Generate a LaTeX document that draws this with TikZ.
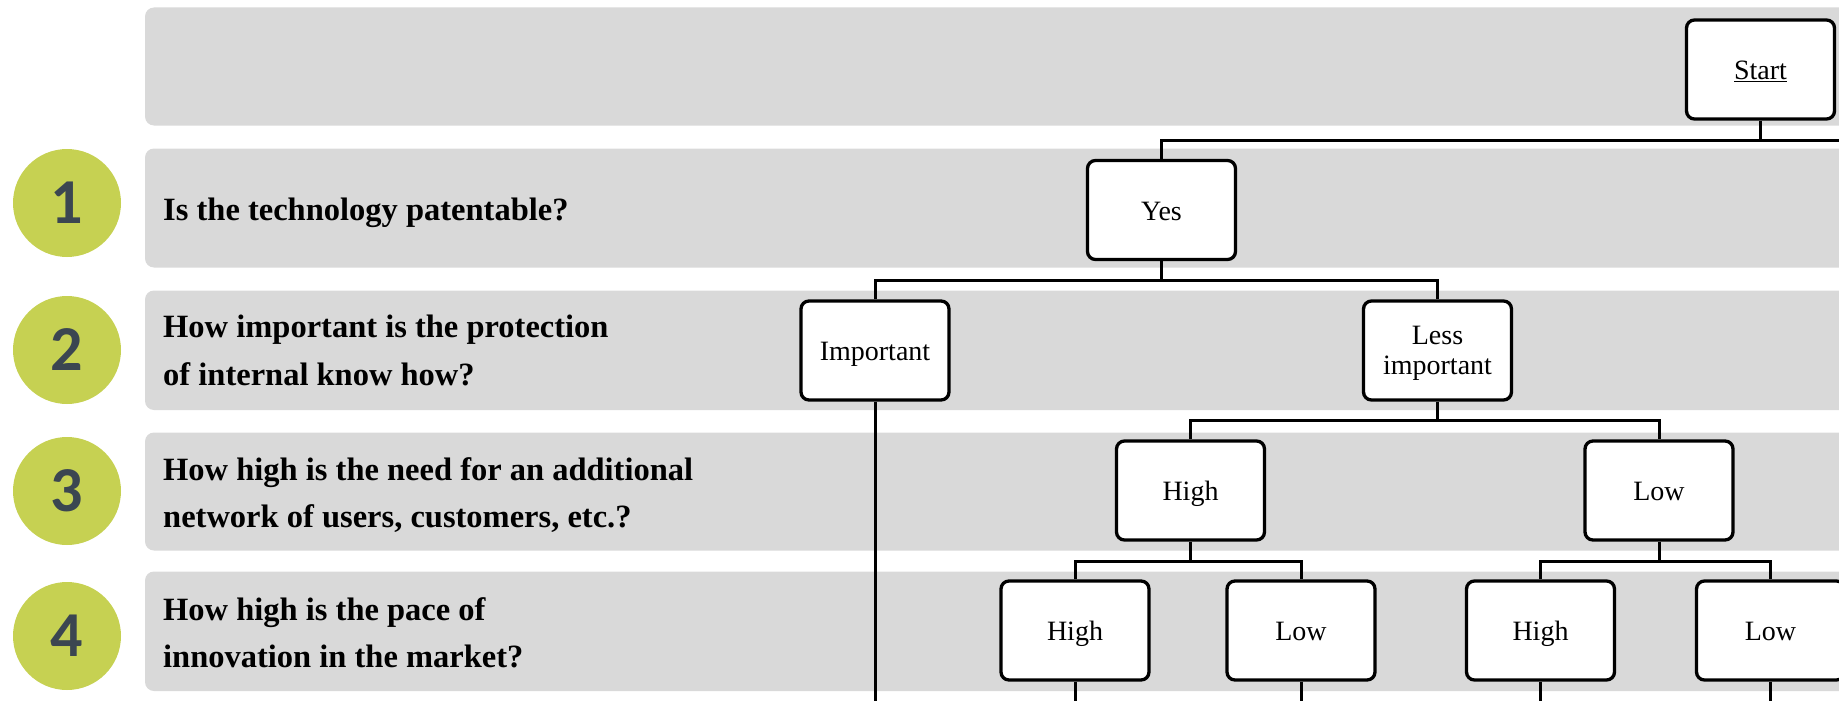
\documentclass[tikz,border=0pt]{standalone}
\usepackage{fontspec}
\setmainfont{Liberation Serif}
\newfontfamily\numfont{Carlito}
\definecolor{bandgray}{RGB}{217,217,217}
\definecolor{circgreen}{RGB}{198,209,82}
\definecolor{numgray}{RGB}{59,70,81}
\begin{document}
\begin{tikzpicture}[x=1pt,y=-1pt,
  band/.style={fill=bandgray, draw=none, rounded corners=9pt},
  numcirc/.style={circle, fill=circgreen, minimum size=108pt, inner sep=0pt, text=numgray, font=\numfont\bfseries\fontsize{64}{64}\selectfont},
  qtext/.style={anchor=base west, inner sep=0pt, font=\bfseries\fontsize{32.5}{39}\selectfont},
  boxbase/.style={draw=black, line width=3.3pt, fill=white, rounded corners=8pt, minimum width=148pt, minimum height=99pt, inner sep=0pt, font=\fontsize{28}{30}\selectfont, align=center},
  dbox/.style={boxbase, text height=20pt, text depth=0pt},
  dboxtwo/.style={boxbase},
  conn/.style={line width=3pt, draw=black}
]
\useasboundingbox (0,0) rectangle (1839,701);
\clip (0,0) rectangle (1839,701);

% bands
\fill[band] (145,7.5) rectangle (1870,125.5);
\fill[band] (145,148.5) rectangle (1870,267.5);
\fill[band] (145,290.5) rectangle (1870,410);
\fill[band] (145,432.5) rectangle (1870,550.5);
\fill[band] (145,571.5) rectangle (1870,691);

% numbered circles
\node[numcirc] (c1) at (67,203) {1};
\node[numcirc] (c2) at (67,350) {2};
\node[numcirc] (c3) at (67,491) {3};
\node[numcirc] (c4) at (67,636) {4};

% questions
\node[qtext] (q1) at (163,220) {Is the technology patentable?};
\node[qtext] (q2a) at (163,337) {How important is the protection};
\node[qtext] (q2b) at (163,385) {of internal know how?};
\node[qtext] (q3a) at (163,480) {How high is the need for an additional};
\node[qtext] (q3b) at (163,527) {network of users, customers, etc.?};
\node[qtext] (q4a) at (163,620) {How high is the pace of};
\node[qtext] (q4b) at (163,667) {innovation in the market?};

% decision boxes
\node[dbox] (start) at (1760.5,69.5) {\underline{Start}};
\node[dbox] (yes) at (1161.5,210) {Yes};
\node[dbox] (imp) at (875,350.5) {Important};
\node[dboxtwo] (less) at (1437.5,350.5) {\rule{0pt}{24pt}Less\\important};
\node[dbox] (h3) at (1190.5,490.5) {High};
\node[dbox] (l3) at (1659,490.5) {Low};
\node[dbox] (h4a) at (1075,630.5) {High};
\node[dbox] (l4b) at (1301,630.5) {Low};
\node[dbox] (h4c) at (1540.5,630.5) {High};
\node[dbox] (l4d) at (1770.5,630.5) {Low};

% junction coordinates
\coordinate (j0) at (1760.5,140);
\coordinate (r0) at (1870,140);
\coordinate (j1) at (1161.5,280);
\coordinate (j2) at (1437.5,420);
\coordinate (j3) at (1190.5,561);
\coordinate (j4) at (1659,561);
\coordinate (b1) at (875,720);
\coordinate (b2) at (1075,720);
\coordinate (b3) at (1301,720);
\coordinate (b4) at (1540.5,720);
\coordinate (b5) at (1770.5,720);

% connectors
\draw[conn] (start.south) -- (j0);
\draw[conn] (yes.north) |- (r0);
\draw[conn] (yes.south) -- (j1);
\draw[conn] (imp.north) |- (j1) -| (less.north);
\draw[conn] (imp.south) -- (b1);
\draw[conn] (less.south) -- (j2);
\draw[conn] (h3.north) |- (j2) -| (l3.north);
\draw[conn] (h3.south) -- (j3);
\draw[conn] (h4a.north) |- (j3) -| (l4b.north);
\draw[conn] (l3.south) -- (j4);
\draw[conn] (h4c.north) |- (j4) -| (l4d.north);
\draw[conn] (h4a.south) -- (b2);
\draw[conn] (l4b.south) -- (b3);
\draw[conn] (h4c.south) -- (b4);
\draw[conn] (l4d.south) -- (b5);
\end{tikzpicture}
\end{document}
